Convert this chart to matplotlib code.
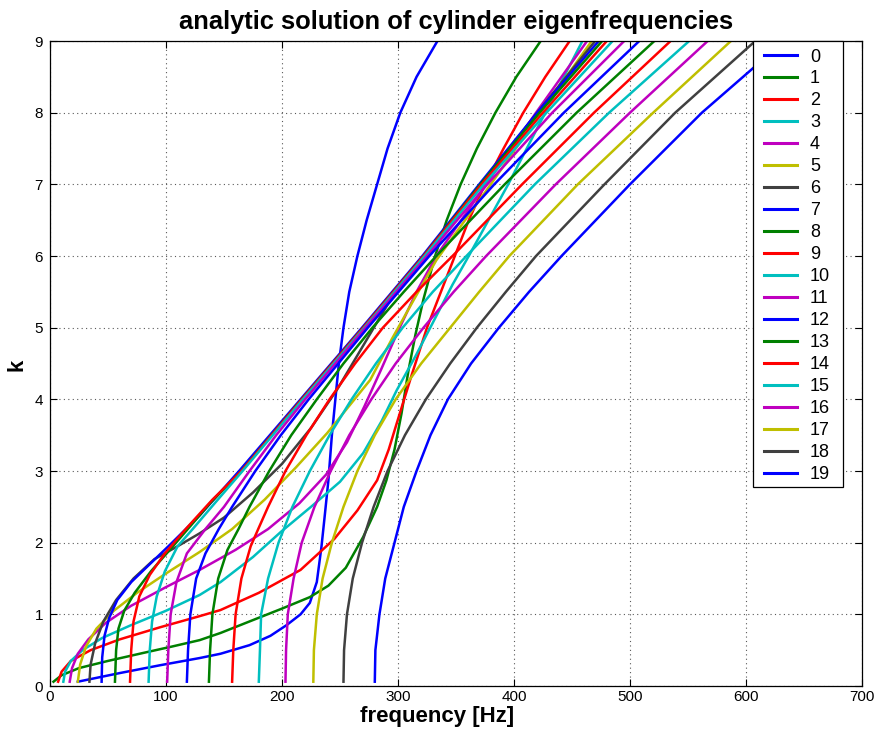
import matplotlib
matplotlib.use("Agg")
import matplotlib.pyplot as plt
from matplotlib.patches import Rectangle

# ---- data: wavenumber k and frequency f [Hz] per circumferential order n
K0 = [0.06, 0.18, 0.29, 0.39, 0.45, 0.57, 0.70, 0.85, 1.00, 1.16, 1.45, 1.94, 2.40, 2.87, 3.50, 4.00, 4.50, 5.00, 5.50, 6.00, 6.50, 7.00, 7.50, 8.00, 8.50, 9.00]
F0 = [24, 60, 95, 129, 147, 172, 190, 204, 216, 224, 230, 234, 237, 240, 243, 246, 249, 253, 258, 265, 273, 282, 291, 302, 316, 334]

K1 = [0.06, 0.15, 0.25, 0.35, 0.46, 0.55, 0.64, 0.74, 0.92, 1.08, 1.24, 1.40, 1.65, 2.08, 2.50, 2.87, 3.30, 3.80, 4.40, 4.90, 5.40, 6.00, 6.50, 7.00, 7.50, 8.00, 8.50, 9.00]
F1 = [3, 10, 25, 50, 80, 105, 129, 147, 175, 200, 224, 240, 255, 270, 282, 290, 297, 303, 309, 315, 322, 332, 342, 354, 368, 384, 402, 423]

K2 = [0.06, 0.20, 0.35, 0.50, 0.65, 0.82, 0.97, 1.06, 1.30, 1.62, 2.05, 2.45, 2.87, 3.30, 3.67, 4.35, 5.00, 5.50, 6.00, 6.50, 7.00, 7.50, 8.00, 8.50, 9.00]
F2 = [7, 10, 18, 35, 60, 95, 128, 147, 180, 216, 245, 265, 282, 292, 299, 312, 325, 337, 349, 361, 375, 391, 408, 427, 448]

K3 = [0.06, 0.20, 0.35, 0.50, 0.67, 0.85, 1.05, 1.27, 1.45, 1.80, 2.15, 2.50, 2.85, 3.25, 3.70, 4.13, 4.60, 5.10, 5.60, 6.00, 7.00, 8.00, 9.00]
F3 = [11.5, 13, 18, 28, 45, 70, 100, 129, 147, 175, 199, 225, 250, 270, 286, 299, 315, 331, 347, 361, 395, 427, 459]

K4 = [0.06, 0.25, 0.45, 0.65, 0.88, 1.12, 1.38, 1.62, 1.90, 2.19, 2.55, 2.95, 3.40, 3.90, 4.40, 4.95, 5.50, 6.00, 7.00, 8.00, 9.00]
F4 = [17, 19, 24, 33, 48, 70, 100, 129, 160, 188, 215, 238, 256, 271, 285, 300, 316, 333, 376, 419, 463]

K5 = [0.06, 0.30, 0.55, 0.80, 1.05, 1.30, 1.57, 1.87, 2.19, 2.60, 3.05, 3.53, 3.95, 4.27, 4.85, 5.40, 5.94, 7.00, 8.00, 9.00]
F5 = [24, 26, 31, 40, 55, 75, 100, 129, 157, 185, 212, 239, 260, 276, 295, 314, 333, 380, 423, 467]

K6 = [0.06, 0.30, 0.60, 0.90, 1.20, 1.50, 1.77, 1.95, 2.13, 2.35, 2.70, 3.10, 3.60, 4.15, 4.75, 5.35, 6.00, 7.00, 8.00, 9.00]
F6 = [34, 35, 39, 46, 57, 72, 90, 110, 129, 150, 175, 200, 225, 248, 270, 292, 325, 372, 420, 470]

K7 = [0.06, 0.40, 0.70, 0.95, 1.20, 1.45, 1.70, 1.98, 2.38, 3.00, 4.00, 5.00, 6.00, 7.00, 8.00, 9.00]
F7 = [44.5, 45, 47, 51, 58, 70, 86, 104, 129, 163, 216, 269, 321, 370, 420, 473]

K8 = [0.06, 0.50, 0.80, 1.05, 1.30, 1.60, 1.95, 2.55, 3.00, 4.00, 5.00, 6.00, 7.00, 8.00, 9.00]
F8 = [56, 57, 59, 64, 73, 87, 106, 138, 165, 217, 270, 322, 371, 422, 476]

K9 = [0.06, 0.50, 0.90, 1.25, 1.55, 1.85, 2.19, 2.60, 3.00, 4.00, 5.00, 6.00, 7.00, 8.00, 9.00]
F9 = [69, 70, 72, 77, 86, 99, 117, 140, 165, 217, 270, 322, 372, 425, 480]

K10 = [0.06, 0.50, 0.90, 1.25, 1.60, 1.95, 2.19, 2.55, 3.00, 4.00, 5.00, 6.00, 7.00, 8.00, 9.00]
F10 = [85, 86, 88, 92, 99, 110, 123, 142, 166, 218, 271, 323, 374, 428, 485]

K11 = [0.06, 0.50, 1.00, 1.45, 1.85, 2.19, 2.50, 3.00, 3.50, 4.00, 5.00, 6.00, 7.00, 8.00, 9.00]
F11 = [101, 102, 104, 109, 118, 134, 150, 172, 195, 220, 272, 325, 377, 433, 495]

K12 = [0.06, 0.50, 1.00, 1.50, 1.85, 2.19, 2.50, 3.00, 3.50, 4.00, 5.00, 6.00, 7.00, 8.00, 9.00]
F12 = [118, 119, 121, 126, 134, 145.5, 157, 177, 199, 223, 274, 327, 383, 443, 508]

K13 = [0.06, 0.50, 1.00, 1.50, 1.90, 2.19, 2.50, 3.00, 3.50, 4.00, 4.50, 5.00, 5.50, 6.00, 7.00, 8.00, 9.00]
F13 = [137, 138, 140, 145, 153, 162.5, 172, 189, 208, 230, 253, 278, 305, 333, 392, 454, 521]

K14 = [0.06, 0.50, 1.00, 1.50, 1.95, 2.19, 2.50, 3.00, 3.50, 4.00, 4.50, 5.00, 5.50, 6.00, 7.00, 8.00, 9.00]
F14 = [157, 158, 160, 165, 173, 179.5, 188, 203, 221, 241, 263, 287, 316, 347, 407, 469, 535]

K15 = [0.06, 0.50, 1.00, 1.50, 2.00, 2.50, 3.00, 3.50, 4.00, 4.50, 5.00, 5.50, 6.00, 7.00, 8.00, 9.00]
F15 = [180, 181, 182, 188, 197, 209, 224, 241, 260, 281, 304, 330, 359, 418, 482, 551]

K16 = [0.06, 0.50, 1.00, 1.50, 2.00, 2.50, 3.00, 3.50, 4.00, 4.50, 5.00, 5.50, 6.00, 7.00, 8.00, 9.00]
F16 = [203, 203.5, 205, 210, 217, 228, 242, 258, 277, 298, 322, 348, 376, 436, 500, 567]

K17 = [0.06, 0.50, 1.00, 1.50, 2.00, 2.50, 3.00, 3.50, 4.00, 4.50, 5.00, 5.50, 6.00, 7.00, 8.00, 9.00]
F17 = [227, 227.5, 230, 235, 243, 253, 265, 280, 298, 320, 345, 370, 396, 455, 520, 587]

K18 = [0.06, 0.50, 1.00, 1.50, 2.00, 2.50, 3.00, 3.50, 4.00, 4.50, 5.00, 5.50, 6.00, 7.00, 8.00, 9.00]
F18 = [253, 253.5, 256, 261, 269, 279, 291, 306, 324, 345, 368, 393, 419, 478, 539, 608]

K19 = [0.06, 0.50, 1.00, 1.50, 2.00, 2.50, 3.00, 3.50, 4.00, 4.50, 5.00, 5.50, 6.00, 7.00, 8.00, 9.00]
F19 = [280, 280.5, 284, 289, 297, 305, 316, 328, 343, 363, 387, 413, 441, 500, 562, 633]

LABELS = [str(i) for i in range(20)]
K_ALL = [K0, K1, K2, K3, K4, K5, K6, K7, K8, K9, K10, K11, K12, K13, K14, K15, K16, K17, K18, K19]
F_ALL = [F0, F1, F2, F3, F4, F5, F6, F7, F8, F9, F10, F11, F12, F13, F14, F15, F16, F17, F18, F19]

# MATLAB default colour order (restarted for the second group 12..19)
C_ORDER = [(0, 0, 1), (0, 0.5, 0), (1, 0, 0), (0, 0.75, 0.75),
           (0.75, 0, 0.75), (0.75, 0.75, 0), (0.25, 0.25, 0.25)]
COLORS = [C_ORDER[i % 7] for i in range(12)] + [C_ORDER[i % 7] for i in range(8)]

plt.rcParams['font.family'] = ['Liberation Sans', 'DejaVu Sans']

W, H = 890, 743
AX_L, AX_R, AX_T, AX_B = 50, 862, 41, 686
fig = plt.figure(figsize=(W / 100, H / 100), dpi=100, facecolor='white')
ax = fig.add_axes([AX_L / W, 1 - AX_B / H, (AX_R - AX_L) / W, (AX_B - AX_T) / H])

def px2ax(x, y):
    return (x - AX_L) / (AX_R - AX_L), (AX_B - y) / (AX_B - AX_T)

for kk, ff, col, lab in zip(K_ALL, F_ALL, COLORS, LABELS):
    ax.plot(ff, kk, color=col, linewidth=1.8, label=lab, solid_joinstyle='round')

ax.set_xlim(0, 700)
ax.set_ylim(0, 9)
ax.set_xticks(range(0, 701, 100))
ax.set_yticks(range(0, 10))
ax.tick_params(direction='in', top=True, right=True, labelsize=11, length=5, width=0.8)
ax.tick_params(axis='x', pad=3)
ax.tick_params(axis='y', pad=5)
ax.grid(True, linestyle=(0, (1, 3)), color='0.35', linewidth=0.8)
for sp in ax.spines.values():
    sp.set_linewidth(0.9)

ax.set_xlabel('frequency [Hz]', fontsize=16, fontweight='bold')
ax.xaxis.set_label_coords(*px2ax(437, 706))
ax.set_ylabel('k', fontsize=16, fontweight='bold')
ax.yaxis.set_label_coords(*px2ax(27, 365))
ax.set_title('analytic solution of cylinder eigenfrequencies', fontsize=18.4, fontweight='bold', pad=9)

# legend frame (drawn as a box like MATLAB's) and entries
x0, y1 = px2ax(753, 41)
x1, y0 = px2ax(843, 487)
ax.add_patch(Rectangle((x0, y0), x1 - x0, y1 - y0, transform=ax.transAxes,
                       facecolor='white', edgecolor='black', linewidth=0.9, zorder=4.5, clip_on=False))
leg = ax.legend(loc='upper left', bbox_to_anchor=px2ax(764, 48.5), borderaxespad=0,
                fontsize=13, handlelength=1.85, handletextpad=0.7, labelspacing=0.275,
                borderpad=0, frameon=False)
leg.set_zorder(5)
for h in leg.get_lines():
    h.set_linewidth(2.2)

fig.savefig('out.png', dpi=100, facecolor='white')
